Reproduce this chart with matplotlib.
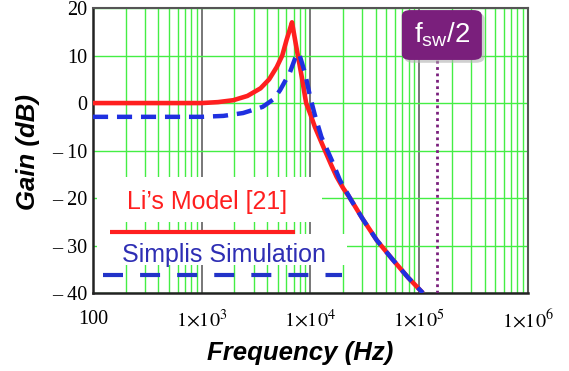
"""Gain vs frequency: Li's model vs Simplis simulation, with f_sw/2 marker."""
import matplotlib
matplotlib.use("Agg")
import matplotlib.pyplot as plt
from matplotlib.patches import Rectangle, FancyBboxPatch
from matplotlib.lines import Line2D

plt.rcParams["font.family"] = ["Liberation Sans", "DejaVu Sans"]
plt.rcParams["mathtext.fontset"] = "custom"
plt.rcParams["mathtext.rm"] = "Liberation Sans"
plt.rcParams["mathtext.it"] = "Liberation Sans:italic"

# Li's model [21] (red, solid)
li_freq = [100, 1000, 1410, 1950, 2630, 3470, 4170, 4900, 5500, 6030, 6460, 6760,
           7520, 8318, 9120, 10000, 10965, 12303, 13583, 15488, 17378, 19953,
           23067, 30200, 40738, 56234, 79433, 108143]
li_gain = [0, 0, 0.2, 0.6, 1.5, 3.1, 5.0, 7.6, 10.0, 13.3, 15.5, 17.0,
           11.0, 5.5, 0.0, -2.4, -5.0, -7.7, -10.0, -13.0, -15.5, -17.9,
           -20.0, -24.4, -28.9, -32.8, -36.8, -40.0]

# Simplis simulation (blue, dashed)
sim_freq = [100, 1000, 1585, 2399, 3631, 4571, 5248, 6457, 7244, 7674, 7943, 8913,
            9886, 10965, 12589, 15668, 18621, 23067, 30200, 40738, 56234, 79433,
            108143]
sim_gain = [-2.9, -2.9, -2.7, -2.1, -0.8, 0.8, 2.7, 6.4, 9.5, 10.5, 10.1, 6.3,
            1.5, -2.5, -7.1, -12.0, -16.2, -20.0, -24.4, -28.9, -32.8, -36.8,
            -40.0]

fsw_half = 1.46e5

x_ticks = [100, 1e3, 1e4, 1e5, 1e6]
x_labels = ["100", r"$1{\times}10^{3}$", r"$1{\times}10^{4}$",
            r"$1{\times}10^{5}$", r"$1{\times}10^{6}$"]
y_ticks = [-40, -30, -20, -10, 0, 10, 20]
y_labels = ["\u2013 40", "\u2013 30", "\u2013 20", "\u2013 10", "0", "10", "20"]

RED = "#ff1f1f"
BLUE = "#1f30e0"
TXT_BLUE = "#2e2eb4"
PURPLE = "#7a1f7c"
GREEN = "#44ee44"

fig = plt.figure(figsize=(5.69, 3.71), dpi=100)
ax = fig.add_axes([0.1634, 0.2102, 0.7645, 0.768])

ax.set_xscale("log")
ax.set_xlim(100, 1e6)
ax.set_ylim(-40, 20)

ax.set_xticks(x_ticks, labels=x_labels)
ax.set_xticks([m * 10 ** d for d in range(2, 6) for m in range(2, 10)], minor=True)
ax.set_yticks(y_ticks, labels=y_labels)
ax.tick_params(axis="both", which="both", length=0)
ax.tick_params(axis="x", pad=12, labelsize=14.5)
ax.tick_params(axis="y", pad=4, labelsize=14.5)
for lab in ax.get_xticklabels(minor=False) + ax.get_yticklabels():
    lab.set_fontfamily("Liberation Serif")
    lab.set_math_fontfamily("stix")
for lab in ax.get_yticklabels():
    lab.set_verticalalignment("center_baseline")
ax.xaxis.set_minor_formatter(plt.NullFormatter())

ax.grid(axis="x", which="minor", color=GREEN, lw=1.0, zorder=0.5)
ax.grid(axis="x", which="major", color="#606060", lw=1.2, zorder=0.6)
ax.grid(axis="y", which="major", color=GREEN, lw=1.0, zorder=0.5)
ax.set_axisbelow(True)

for side in ("left", "bottom"):
    ax.spines[side].set_color("#222222")
    ax.spines[side].set_linewidth(1.8)
for side in ("top", "right"):
    ax.spines[side].set_color("#555555")
    ax.spines[side].set_linewidth(1.5)

# curves
ax.plot(li_freq, li_gain, color=RED, lw=3.3, zorder=3, solid_capstyle="butt",
        solid_joinstyle="round")
ax.plot(sim_freq, sim_gain, color=BLUE, lw=3.2, zorder=4,
        linestyle=(0, (3.4, 2.0)), dash_capstyle="butt", dash_joinstyle="round")

# f_sw/2 marker
ax.axvline(fsw_half, ymin=0, ymax=0.82, color=PURPLE, lw=2.0,
           linestyle=(0, (1, 1.3)), zorder=3)
shadow = FancyBboxPatch((0.716, 0.808), 0.184, 0.175, transform=ax.transAxes,
                        boxstyle="round,pad=0,rounding_size=0.02",
                        fc="#b0b0b0", ec="none", alpha=0.6, zorder=5, clip_on=False)
box = FancyBboxPatch((0.710, 0.818), 0.184, 0.175, transform=ax.transAxes,
                     boxstyle="round,pad=0,rounding_size=0.02",
                     fc=PURPLE, ec="none", zorder=6, clip_on=False)
ax.add_patch(shadow)
ax.add_patch(box)
ax.text(0.802, 0.905, r"$\mathregular{f_{sw}/2}$", transform=ax.transAxes,
        color="white", fontsize=20, ha="center", va="center", zorder=7)

# legend: white panels over grid
ax.add_patch(Rectangle((0.009, 0.249), 0.517, 0.158, transform=ax.transAxes,
                       fc="white", ec="none", zorder=2))
ax.add_patch(Rectangle((0.009, 0.098), 0.575, 0.11, transform=ax.transAxes,
                       fc="white", ec="none", zorder=2))
ax.text(0.078, 0.319, "Li\u2019s Model [21]", transform=ax.transAxes,
        color=RED, fontsize=18, ha="left", va="center", zorder=5)
ax.add_line(Line2D([0.039, 0.464], [0.214, 0.214], transform=ax.transAxes,
                   color=RED, lw=3.0, solid_capstyle="butt", zorder=5))
ax.text(0.066, 0.133, "Simplis Simulation", transform=ax.transAxes,
        color=TXT_BLUE, fontsize=18, ha="left", va="center", zorder=5)
ax.add_line(Line2D([0.023, 0.572], [0.063, 0.063], transform=ax.transAxes,
                   color="#2233c8", lw=3.0, linestyle=(0, (4.8, 4.1)),
                   dash_capstyle="butt", zorder=5))

fig.text(300 / 569, 1 - 353 / 371, "Frequency (Hz)", fontsize=18.5,
         fontweight="bold", fontstyle="italic", ha="center", va="center")
fig.text(28 / 569, 1 - 152 / 371, "Gain (dB)", fontsize=18.5, rotation=90,
         fontweight="bold", fontstyle="italic", ha="center", va="center")

fig.savefig("out.png", dpi=100, facecolor="white")
